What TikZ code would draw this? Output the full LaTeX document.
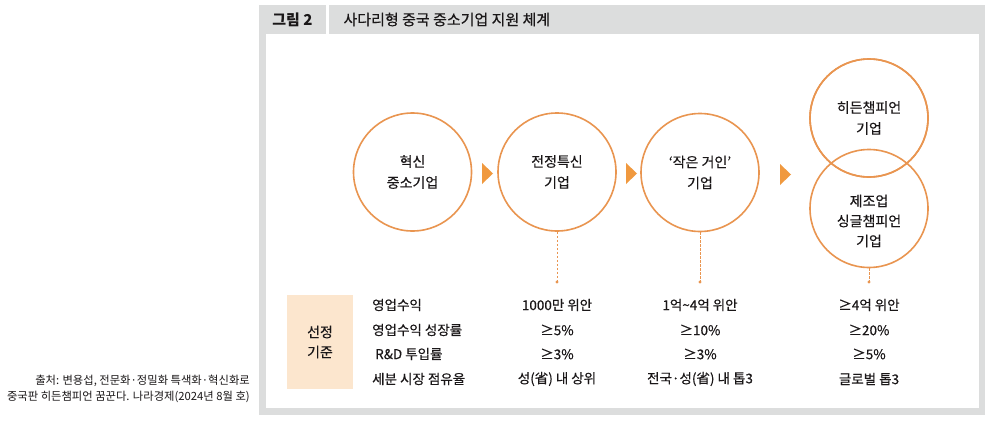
\documentclass[tikz,border=0pt]{standalone}
\usepackage{fontspec}
\setmainfont{Noto Sans CJK KR}
\newfontfamily\medfont[FakeBold=0.35]{Noto Sans CJK KR}
\definecolor{framegrey}{HTML}{DCDDDD}
\definecolor{orng}{HTML}{E99550}
\definecolor{arrowor}{HTML}{F0993F}
\definecolor{beige}{HTML}{FCE6CE}
\definecolor{txt}{HTML}{1A1718}
\tikzset{
  stage/.style={circle, draw=orng, line width=1.6pt, minimum size=118pt, inner sep=0pt, align=center, font=\medfont\fontsize{14}{21}\selectfont, text=txt},
  stagetext/.style={align=center, font=\medfont\fontsize{14}{20}\selectfont, text=txt, inner sep=0pt},
  tri/.style={fill=arrowor},
  lead/.style={draw=orng, dashed, dash pattern=on 2.5pt off 1.5pt, line width=0.7pt},
  dotend/.style={fill=orng},
  rowlab/.style={anchor=west, font=\medfont\fontsize{13.5}{15}\selectfont, text=txt, inner sep=0pt},
  val/.style={anchor=center, font=\medfont\fontsize{13.5}{15}\selectfont, text=txt, inner sep=0pt},
}
\begin{document}
\begin{tikzpicture}[x=1pt,y=-1pt]
\useasboundingbox (0,0) rectangle (990,423);
\fill[white] (0,0) rectangle (990,423);
% frame
\fill[framegrey] (259,5) rectangle (985,415);
\fill[white] (266,34) rectangle (979,408);
\fill[white] (326,5) rectangle (328.5,34);
\node[font=\fontsize{15}{17}\selectfont\bfseries, text=txt] (fig) at (292.5,19.5) {그림 2};
\node[font=\medfont\fontsize{15}{17}\selectfont, text=txt, anchor=west] (title) at (340,19.5) {사다리형 중국 중소기업 지원 체계};
% circles
\node[stage] (c1) at (412.5,172) {혁신\\중소기업};
\node[stage] (c2) at (557,172) {전정특신\\기업};
\node[stage] (c3) at (700,172.5) {‘작은 거인’\\기업};
\node[stage] (c4) at (869,118) {히든챔피언\\기업};
\node[stage] (c5) at (869,208.5) {};
\node[stagetext] (c5t) at (869,221) {제조업\\싱글챔피언\\기업};
\draw[orng, line width=1.6pt] (c4) circle (59pt);
% arrows
\fill[tri] (482,163) -- (493,173.5) -- (482,184) -- cycle;
\fill[tri] (626,163) -- (637,173.5) -- (626,184) -- cycle;
\fill[tri] (780,164) -- (791,174.5) -- (780,185) -- cycle;
% leaders
\coordinate (d2) at (557,282);
\coordinate (d3) at (700,282);
\coordinate (d5) at (869,282);
\draw[lead] (c2.south) -- (d2);
\draw[lead] (c3.south) -- (d3);
\draw[lead] (c5.south) -- (d5);
\fill[dotend] (d2) circle (1.6pt);
\fill[dotend] (d3) circle (1.6pt);
\fill[dotend] (d5) circle (1.6pt);
% table
\node[fill=beige, minimum width=66pt, minimum height=94pt, inner sep=0pt, align=center, font=\medfont\fontsize{14}{20}\selectfont, text=txt] (crit) at (320,342) {선정\\기준};
\node[rowlab] (r1) at (372,305) {영업수익};
\node[rowlab] (r2) at (372,330) {영업수익 성장률};
\node[rowlab] (r3) at (375,354) {R\&D 투입률};
\node[rowlab] (r4) at (372,379) {세분 시장 점유율};
\node[val] (v11) at (557,305) {1000만 위안};
\node[val] (v12) at (557,330) {≥5\%};
\node[val] (v13) at (557,354) {≥3\%};
\node[val] (v14) at (557,379) {성(省) 내 상위};
\node[val] (v21) at (700,305) {1억\textasciitilde 4억 위안};
\node[val] (v22) at (700,330) {≥10\%};
\node[val] (v23) at (700,354) {≥3\%};
\node[val] (v24) at (700,379) {전국·성(省) 내 톱3};
\node[val] (v31) at (869,305) {≥4억 위안};
\node[val] (v32) at (869,330) {≥20\%};
\node[val] (v33) at (869,354) {≥5\%};
\node[val] (v34) at (869,379) {글로벌 톱3};
% source
\node[anchor=east, align=right, font=\fontsize{11.3}{16}\selectfont, text=txt, inner sep=0pt] (src) at (250,389) {출처: 변용섭, 전문화·정밀화 특색화·혁신화로\\중국판 히든챔피언 꿈꾼다. 나라경제(2024년 8월 호)};
\end{tikzpicture}
\end{document}
